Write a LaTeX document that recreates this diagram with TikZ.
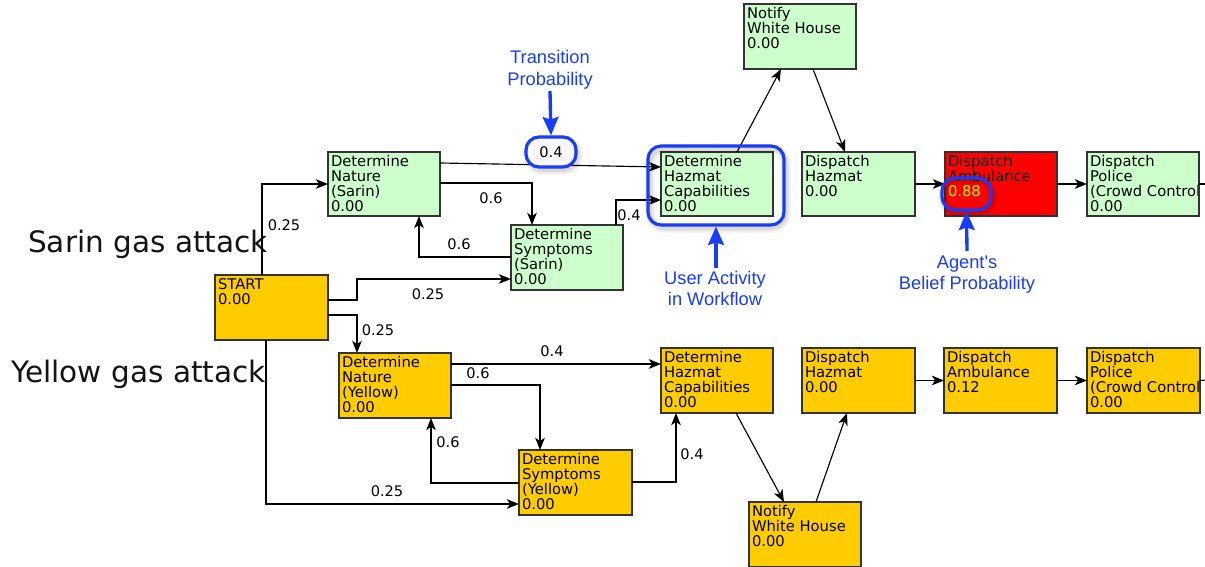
\documentclass[tikz,border=0pt]{standalone}
\usepackage{fontspec}
\setmainfont{DejaVu Sans}
\newfontfamily\annfont{Liberation Sans}
\usetikzlibrary{arrows.meta,calc}
\definecolor{bgreen}{HTML}{CCFFCC}
\definecolor{byellow}{HTML}{FFCC00}
\definecolor{bred}{HTML}{FF0000}
\definecolor{ayellow}{HTML}{FFFF00}
\definecolor{annblue}{RGB}{25,60,250}
\definecolor{edgegray}{HTML}{333333}
\newlength\pxu
\setlength\pxu{0.02cm}
\tikzset{
  wbox/.style={draw=edgegray, line width=0.7pt, minimum width=112\pxu, minimum height=65\pxu,
    inner sep=0pt, outer sep=0pt, anchor=north west,
    path picture={\node[anchor=base west, inner sep=0pt] at ($(path picture bounding box.north west)+(3,14.7)$)
      {\parbox[t]{200\pxu}{\fontsize{8.4}{8.5}\selectfont #1}};}},
  arr/.style={-{Stealth[length=7pt,width=5.5pt,inset=2pt]}, line width=0.65pt, draw=black},
  plain/.style={line width=0.65pt, draw=black},
  elab/.style={inner sep=0pt, font=\fontsize{8.3}{9}\selectfont},
  bigtext/.style={inner sep=0pt, anchor=base east, font=\fontsize{16.8}{18}\selectfont, text=black!92},
  ann/.style={inner sep=0pt, anchor=base, text=annblue},
  annarr/.style={-{Stealth[length=10.5pt,width=9pt,inset=1.5pt]}, line width=1.9pt, draw=annblue},
  hilite/.style={draw=annblue, line width=1.8pt, rounded corners=13\pxu},
  glow/.style={draw=black, opacity=#1, rounded corners=15\pxu}
}
\begin{document}
\begin{tikzpicture}[x=0.02cm, y=-0.02cm]
\useasboundingbox (0,0) rectangle (1205,567);

% ---- row labels
\node[bigtext] (sarinlab) at (268,253) {Sarin gas attack};
\node[bigtext] (yellowlab) at (266,383) {Yellow gas attack};

% ---- Sarin row
\node[wbox={START\\0.00}, fill=byellow, minimum width=113\pxu] (start) at (215,275) {};
\node[wbox={Determine\\Nature\\(Sarin)\\0.00}, fill=bgreen, minimum height=64\pxu] (nats) at (328,152) {};
\node[wbox={Determine\\Symptoms\\(Sarin)\\0.00}, fill=bgreen] (syms) at (511,225) {};
\node[wbox={Determine\\Hazmat\\Capabilities\\0.00}, fill=bgreen, minimum height=64\pxu] (hazs) at (661,152) {};
\node[wbox={Notify\\White House\\0.00}, fill=bgreen] (nots) at (744,4) {};
\node[wbox={Dispatch\\Hazmat\\0.00}, fill=bgreen, minimum width=113\pxu, minimum height=64\pxu] (dhs) at (802,152) {};
\node[wbox={Dispatch\\Ambulance\\\textcolor{ayellow}{0.88}}, fill=bred, minimum height=64\pxu] (ambs) at (945,152) {};
\node[wbox={Dispatch\\Police\\(Crowd Control)\\0.00}, fill=bgreen, minimum height=64\pxu] (pols) at (1087,152) {};

% ---- Yellow row
\node[wbox={Determine\\Nature\\(Yellow)\\0.00}, fill=byellow] (naty) at (339,353) {};
\node[wbox={Determine\\Hazmat\\Capabilities\\0.00}, fill=byellow] (hazy) at (661,348) {};
\node[wbox={Determine\\Symptoms\\(Yellow)\\0.00}, fill=byellow, minimum width=113\pxu] (symy) at (519,450) {};
\node[wbox={Notify\\White House\\0.00}, fill=byellow] (noty) at (749,502) {};
\node[wbox={Dispatch\\Hazmat\\0.00}, fill=byellow, minimum width=113\pxu] (dhy) at (802,348) {};
\node[wbox={Dispatch\\Ambulance\\0.12}, fill=byellow, minimum width=113\pxu] (amby) at (944,348) {};
\node[wbox={Dispatch\\Police\\(Crowd Control)\\0.00}, fill=byellow, minimum width=113\pxu] (poly) at (1087,348) {};

% ---- Sarin connectors
\draw[arr] ($(start.north west)+(47,0)$) |- (nats.west);
\draw[arr] ($(start.north east)+(0,25)$) -- ++(29,0) |- ($(syms.north west)+(0,54)$);
\draw[arr] ($(start.north east)+(0,40)$) -| ($(naty.north west)+(18,0)$);
\draw[arr] ($(start.south west)+(51,0)$) |- ($(symy.north west)+(0,54)$);
\draw[arr] ($(nats.north east)+(0,11)$) -- ($(hazs.north west)+(0,15)$);
\draw[arr] ($(nats.north east)+(0,31)$) -| ($(syms.north west)+(21,0)$);
\draw[arr] ($(syms.north west)+(0,32)$) -| ($(nats.south west)+(91,0)$);
\draw[arr] ($(syms.north west)+(105,0)$) |- ($(hazs.north west)+(0,48)$);
\draw[arr] ($(hazs.north west)+(76,0)$) -- ($(nots.south west)+(37,0)$);
\draw[arr] ($(nots.south west)+(69,0)$) -- ($(dhs.north west)+(43,0)$);
\draw[arr] (dhs.east) -- (ambs.west);
\draw[arr] (ambs.east) -- (pols.west);
\coordinate (polsout) at (1206,184);
\draw[plain] (pols.east) -- (polsout);

% ---- Yellow connectors
\draw[arr] ($(naty.north east)+(0,11)$) -- ($(hazy.north west)+(0,16)$);
\draw[arr] ($(naty.north east)+(0,32)$) -| ($(symy.north west)+(21,0)$);
\draw[arr] ($(symy.north west)+(0,33)$) -| ($(naty.south west)+(92,0)$);
\draw[arr] ($(symy.north east)+(0,32)$) -| ($(hazy.south west)+(15,0)$);
\draw[arr] ($(hazy.south west)+(75,0)$) -- ($(noty.north west)+(35,0)$);
\draw[arr] ($(noty.north west)+(67,0)$) -- ($(dhy.south west)+(45,0)$);
\draw[arr] (dhy.east) -- (amby.west);
\draw[arr] (amby.east) -- (poly.west);
\coordinate (polyout) at (1206,380);
\draw[plain] (poly.east) -- (polyout);

% ---- edge labels
\node[elab] (l1) at (284,225) {0.25};
\node[elab] (l2) at (491,198) {0.6};
\node[elab] (l3) at (459,244) {0.6};
\node[elab] (l4) at (428,294) {0.25};
\node[elab] (l5) at (378,330) {0.25};
\node[elab] (l6) at (629,215) {0.4};
\node[elab] (l7) at (552,351) {0.4};
\node[elab] (l8) at (478,373) {0.6};
\node[elab] (l9) at (448,442) {0.6};
\node[elab] (l10) at (387,491) {0.25};
\node[elab] (l11) at (692,454) {0.4};

% ---- highlights with soft shadows
\foreach \w/\o in {10/0.04,7/0.05,4/0.06} {
  \draw[glow=\o, line width=\w\pxu] (528,140) rectangle (578,170);
  \draw[glow=\o, line width=\w\pxu] (650,149) rectangle (786,228);
  \draw[glow=\o, line width=\w\pxu] (943,181) rectangle (993,213);
}
\node[hilite, fill=gray!6, minimum width=50\pxu, minimum height=30\pxu, inner sep=0pt, font=\fontsize{8.3}{9}\selectfont] (pill) at (551,152) {0.4};
\node[hilite, minimum width=136\pxu, minimum height=79\pxu, inner sep=0pt] (hazhl) at (716,185.5) {};
\node[hilite, minimum width=49\pxu, minimum height=32\pxu, inner sep=0pt] (beliefhl) at (966.5,194) {};

% ---- annotations
\node[ann] (tp) at (550,64) {\parbox[t]{4cm}{\centering\annfont\fontsize{10.4}{12.5}\selectfont Transition\\Probability}};
\node[ann] (ua) at (715,285) {\parbox[t]{4cm}{\centering\annfont\fontsize{10.4}{11.5}\selectfont User Activity\\in Workflow}};
\node[ann] (ab) at (967,269) {\parbox[t]{4cm}{\centering\annfont\fontsize{10.4}{11.8}\selectfont Agent's\\Belief Probability}};
\coordinate (tpstart) at (550,91);
\coordinate (uastart) at (716,268);
\coordinate (abstart) at (967,251);
\draw[annarr] (tpstart) -- (pill.north);
\draw[annarr] (uastart) -- (hazhl.south);
\draw[annarr] (abstart) -- (beliefhl.south);
\end{tikzpicture}
\end{document}
